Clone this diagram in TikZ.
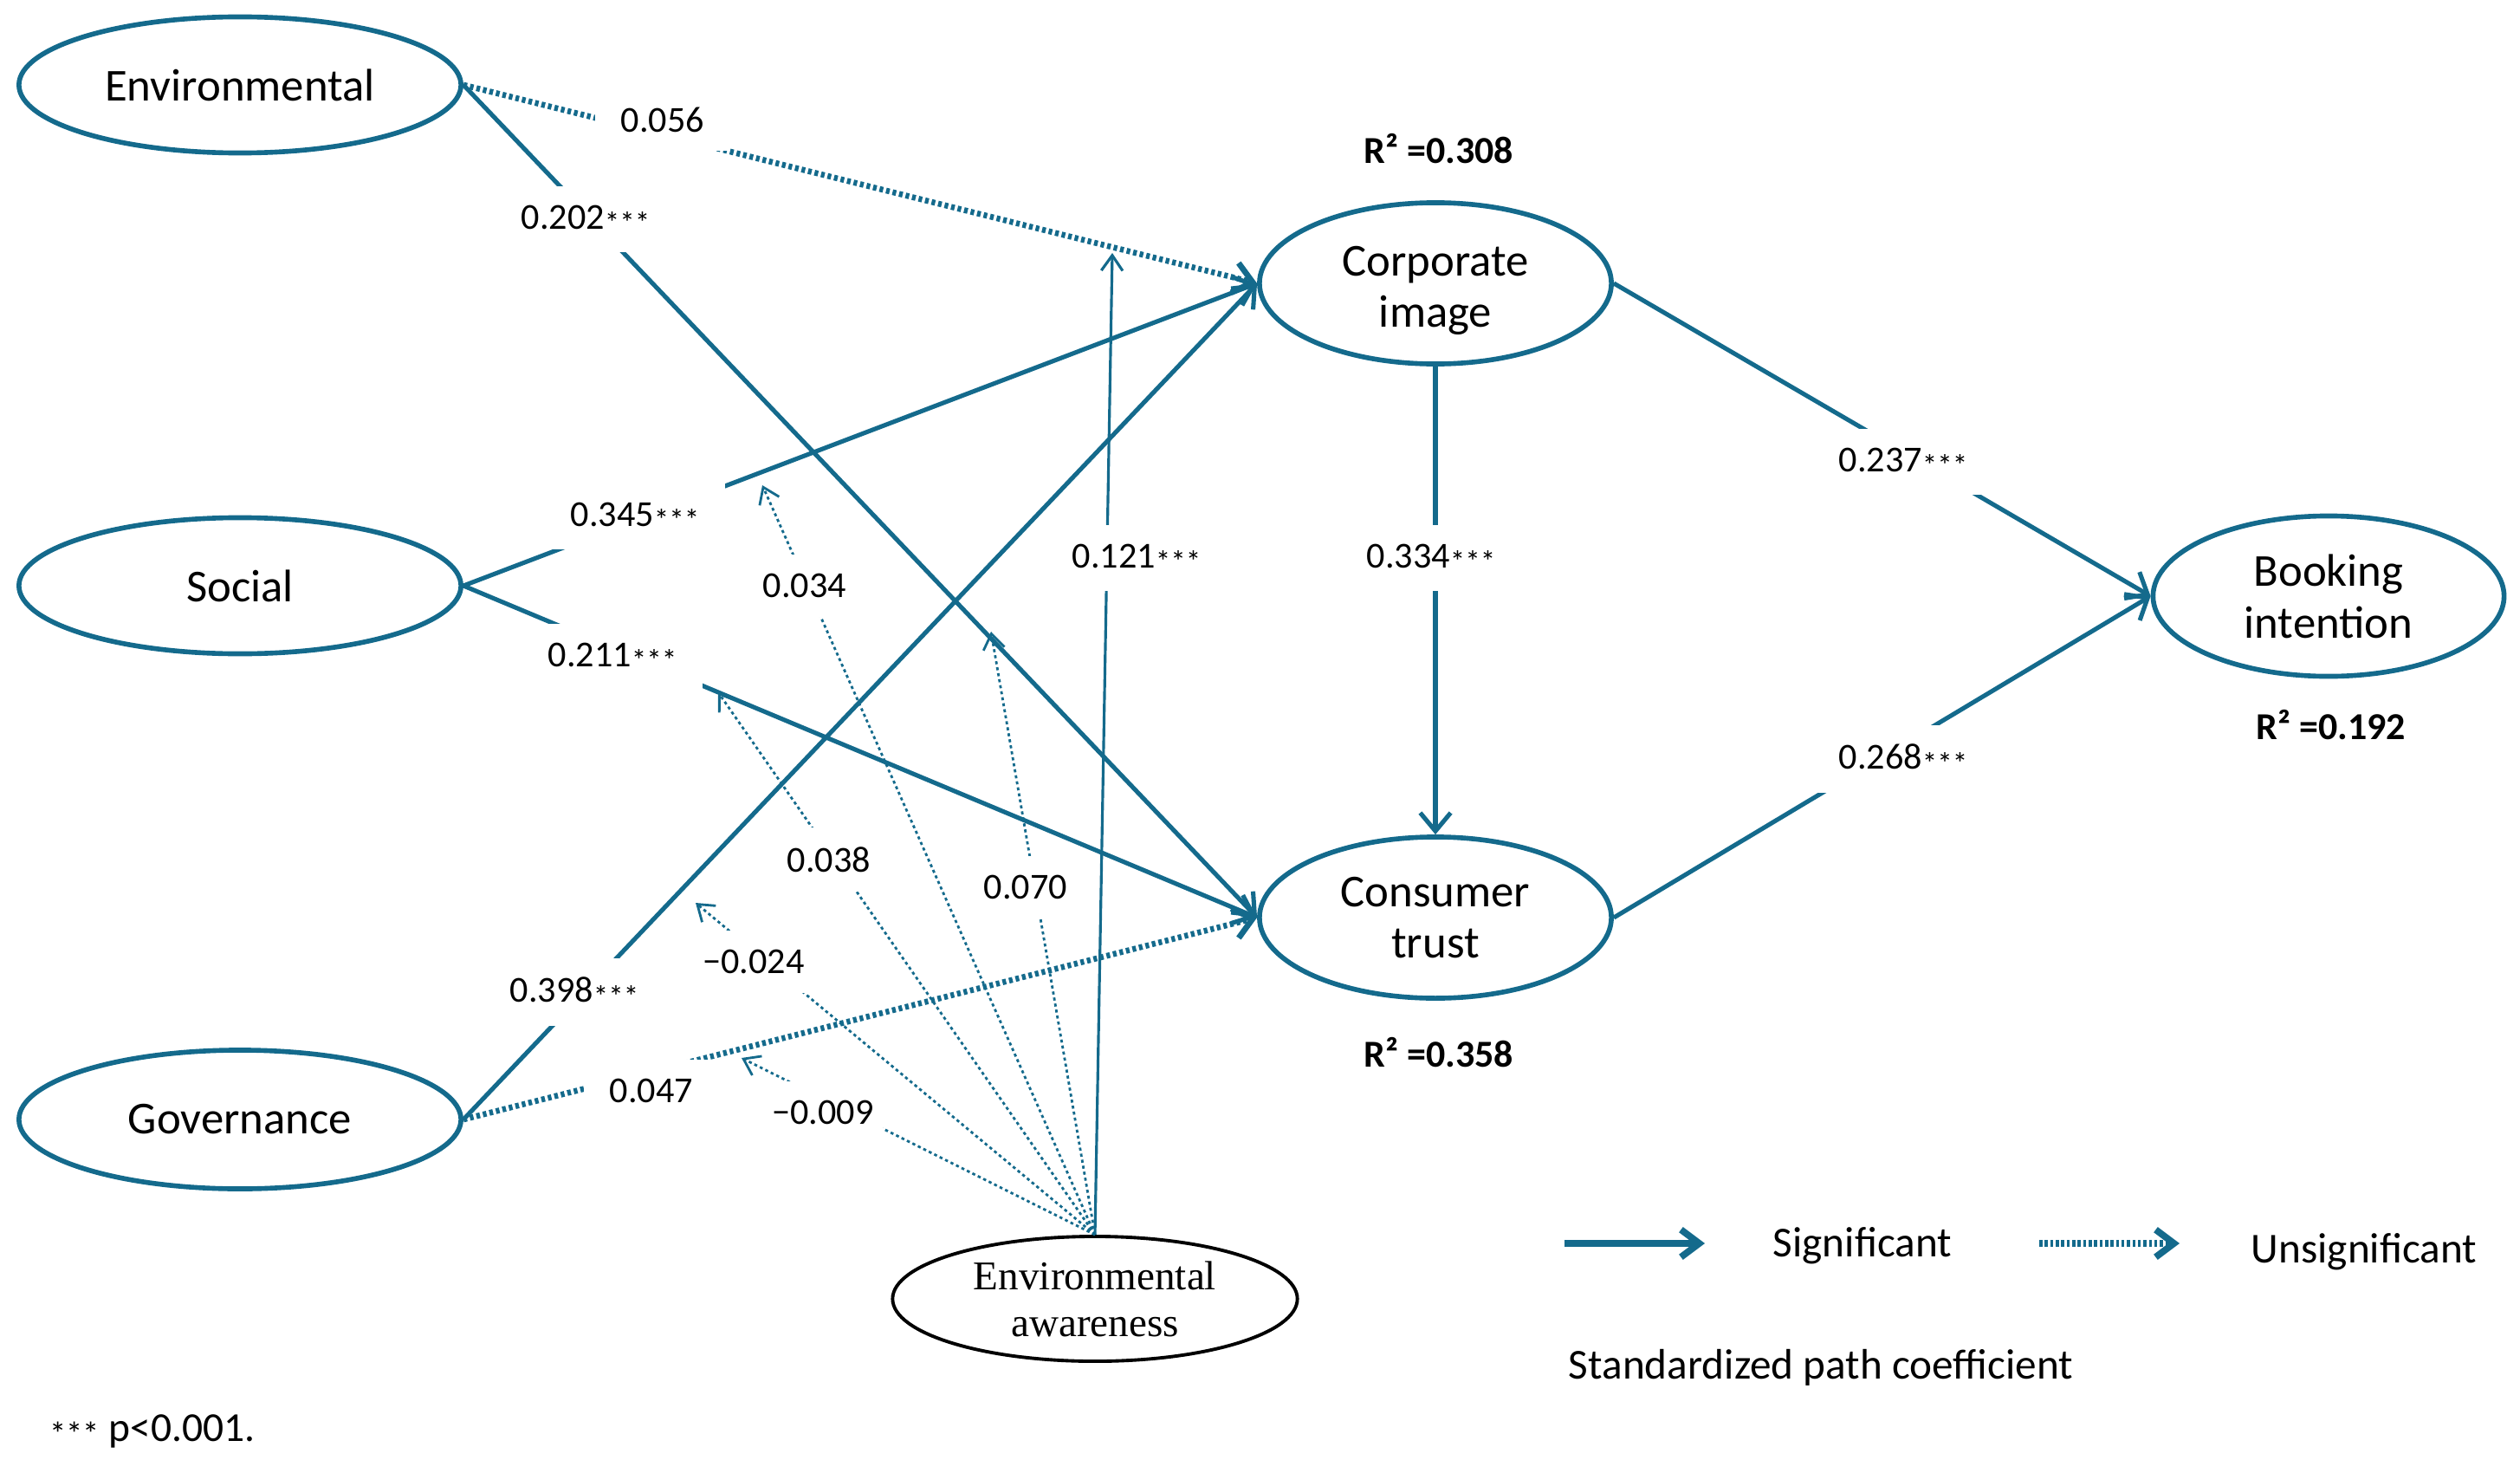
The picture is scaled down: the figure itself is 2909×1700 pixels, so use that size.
\documentclass[tikz,border=0pt]{standalone}
\usepackage{fontspec}
\setmainfont{Carlito}
\newfontfamily\serifea{Liberation Serif}
\usetikzlibrary{shapes.geometric,arrows.meta}
\definecolor{pathblue}{RGB}{20,106,140}
\newcommand{\sigstars}{\raisebox{-1.5pt}{\fontsize{10}{10}\selectfont ***}}
\newcommand{\lowtwo}[2]{\raisebox{-2.6pt}[\height][\depth]{\begin{tabular}{@{}c@{}}#1\\#2\end{tabular}}}
\tikzset{
  lat/.style={ellipse, draw=pathblue, line width=1.6pt, inner sep=0pt, align=center,
    font=\fontsize{15}{17}\selectfont},
  sig/.style={draw=pathblue, line width=1.45pt, -{Straight Barb[length=6pt,width=10pt]}},
  uns/.style={draw=pathblue, line width=1.9pt, dash pattern=on 1.2pt off 1pt,
    -{Straight Barb[length=6pt,width=10pt]}},
  modsig/.style={draw=pathblue, line width=0.9pt, -{Straight Barb[length=5pt,width=7pt]}},
  moduns/.style={draw=pathblue, line width=0.8pt, dash pattern=on 1pt off 1pt,
    -{Straight Barb[length=5pt,width=7pt]}},
  coef/.style={fill=white, inner xsep=0.3cm, inner ysep=0.22cm, font=\fontsize{12}{14}\selectfont},
  modcoef/.style={fill=white, inner xsep=0.1cm, inner ysep=0.22cm, font=\fontsize{12}{14}\selectfont},
  rsq/.style={font=\bfseries\fontsize{12.5}{14}\selectfont},
  legtext/.style={font=\fontsize{14}{16}\selectfont},
  legsig/.style={draw=pathblue, line width=2.2pt, -{Straight Barb[length=6pt,width=9pt]}},
  leguns/.style={draw=pathblue, line width=2.2pt, dash pattern=on 1pt off 0.8pt,
    -{Straight Barb[length=6pt,width=9pt]}}
}
\begin{document}
\begin{tikzpicture}[x=0.01cm,y=-0.01cm]
\useasboundingbox (0,0) rectangle (2909,1700);

% latent variables
\node[lat, minimum width=5.1cm, minimum height=1.57cm] (env) at (277,98) {Environmental};
\node[lat, minimum width=5.1cm, minimum height=1.57cm] (soc) at (277,676) {Social};
\node[lat, minimum width=5.1cm, minimum height=1.6cm] (gov) at (277,1292) {Governance};
\node[lat, minimum width=4.06cm, minimum height=1.86cm] (ci) at (1657,327) {\lowtwo{Corporate}{image}};
\node[lat, minimum width=4.06cm, minimum height=1.86cm] (ct) at (1657,1059) {Consumer\\trust};
\node[lat, minimum width=4.05cm, minimum height=1.85cm] (bi) at (2688,688) {Booking\\intention};
\node[ellipse, draw=black, line width=1.1pt, inner sep=0pt, align=center,
  minimum width=4.67cm, minimum height=1.44cm,
  font=\serifea\fontsize{13.4}{15.4}\selectfont] (ea) at (1264,1499) {Environmental\\awareness};

% main paths
\draw[uns] (env.east) -- (ci.west);
\draw[sig] (env.east) -- (ct.west);
\draw[sig] (soc.east) -- (ci.west);
\draw[sig] (soc.east) -- (ct.west);
\draw[sig] (gov.east) -- (ci.west);
\draw[uns] (gov.east) -- (ct.west);
\draw[sig] (ci.south) -- (ct.north);
\draw[sig] (ci.east) -- (bi.west);
\draw[sig] (ct.east) -- (bi.west);

% moderation paths
\coordinate (m1) at (1284,292);
\coordinate (m2) at (880,560);
\coordinate (m3) at (1144,729);
\coordinate (m4) at (829,799);
\coordinate (m5) at (803,1042);
\coordinate (m6) at (856,1221);
\draw[modsig] (ea.north) -- (m1);
\draw[moduns] (ea.north) -- (m2);
\draw[moduns] (ea.north) -- (m3);
\draw[moduns] (ea.north) -- (m4);
\draw[moduns] (ea.north) -- (m5);
\draw[moduns] (ea.north) -- (m6);

% coefficients
\node[coef] (l056) at (765,138) {0.056};
\node[coef] (l202) at (676,253) {0.202\sigstars};
\node[coef] (l345) at (733,596) {0.345\sigstars};
\node[coef] (l211) at (707,758) {0.211\sigstars};
\node[coef] (l398) at (663,1145) {0.398\sigstars};
\node[coef] (l047) at (752,1259) {0.047};
\node[coef] (l121) at (1312,644) {0.121\sigstars};
\node[coef] (l334) at (1652,644) {0.334\sigstars};
\node[coef] (l237) at (2197,533) {0.237\sigstars};
\node[coef] (l268) at (2197,876) {0.268\sigstars};
\node[modcoef] (l034) at (929,676) {0.034};
\node[modcoef] (l038) at (957,992) {0.038};
\node[modcoef] (l024) at (870,1110) {−0.024};
\node[modcoef] (l009) at (950,1284) {−0.009};
\node[modcoef] (l070) at (1184,1024) {0.070};

% R squared
\node[rsq] (r1) at (1661,172) {R² =0.308};
\node[rsq] (r2) at (1661,1215) {R² =0.358};
\node[rsq] (r3) at (2691,837) {R² =0.192};

% legend
\coordinate (lga) at (1806,1435);
\coordinate (lgb) at (1968,1435);
\coordinate (lgc) at (2354,1435);
\coordinate (lgd) at (2516,1435);
\draw[legsig] (lga) -- (lgb);
\draw[leguns] (lgc) -- (lgd);
\node[legtext] (sigt) at (2150,1438) {Significant};
\node[legtext] (unst) at (2729,1445) {Unsignificant};
\node[legtext] (std) at (2102,1578) {Standardized path coefficient};
\node[font=\fontsize{13.5}{15}\selectfont] (pnote) at (176,1652) {\raisebox{-1.5pt}{\fontsize{11}{11}\selectfont ***} p<0.001.};
\end{tikzpicture}
\end{document}
